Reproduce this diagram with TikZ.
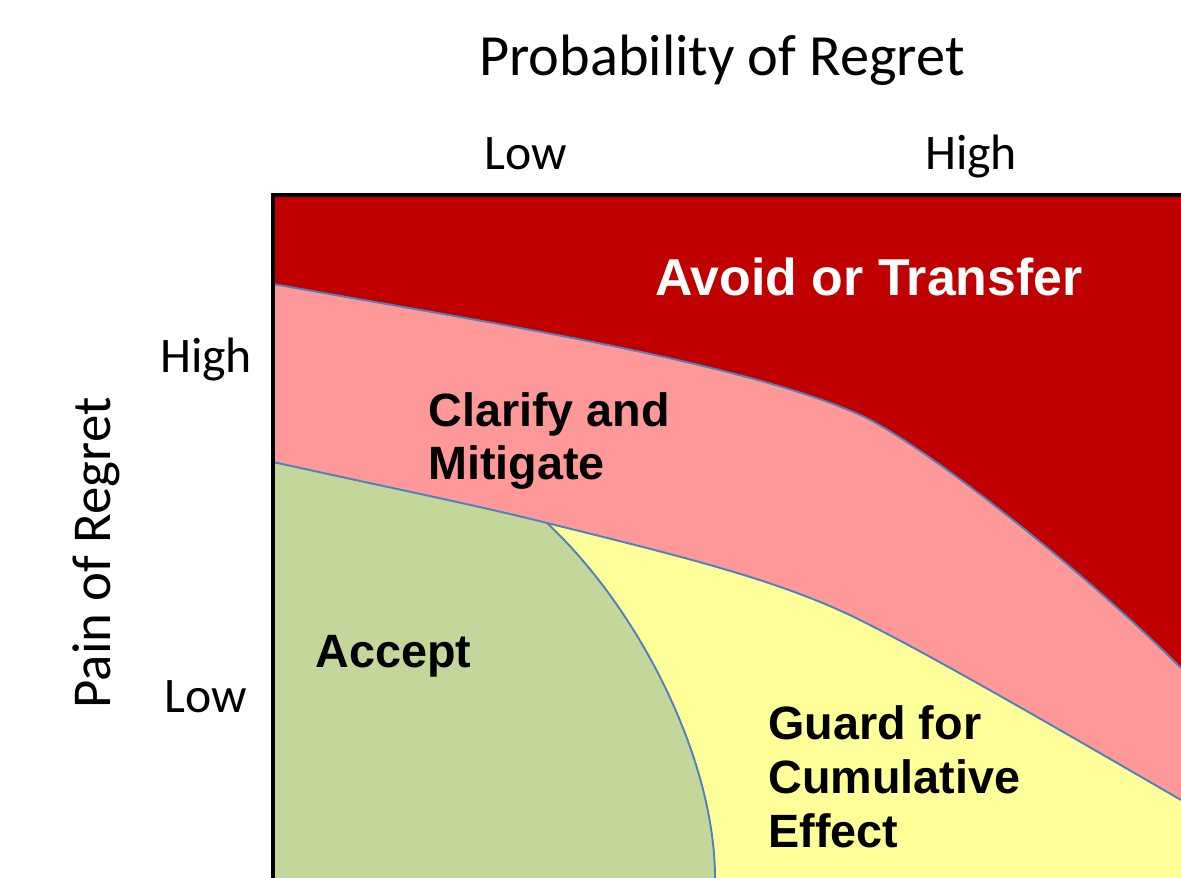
\documentclass[tikz,border=0pt]{standalone}
\usepackage{fontspec}
\setmainfont{Carlito}
\newfontfamily\zonefont{Liberation Sans}
\definecolor{avoidred}{HTML}{C00000}
\definecolor{clarpink}{HTML}{FF9999}
\definecolor{acceptgr}{HTML}{C4D79B}
\definecolor{guardyl}{HTML}{FFFF99}
\definecolor{bnd}{HTML}{4F81BD}
\tikzset{
    edge/.style={bnd,line width=1.1pt},
    frame/.style={black,line width=2.4pt},
    axislbl/.style={font=\fontsize{28.3}{34}\selectfont,inner sep=0pt,anchor=base},
    zonelbl/.style={font=\zonefont\bfseries\fontsize{26.6}{30.6}\selectfont,inner sep=0pt,align=left,anchor=base west}
}
\begin{document}
\begin{tikzpicture}[x=0.02cm,y=-0.02cm]
    \useasboundingbox (0,0) rectangle (1181,878);
    \coordinate (bl) at (273,878);
    \coordinate (tl) at (273,195);
    \coordinate (tr) at (1181,195);
    \coordinate (br) at (1181,878);
    \coordinate (u0) at (273,284);
    \coordinate (u1) at (860,415);
    \coordinate (u2) at (1181,668);
    \coordinate (l0) at (273,462);
    \coordinate (l1) at (547,523);
    \coordinate (l2) at (860,620);
    \coordinate (l3) at (1181,800);
    \coordinate (g1) at (715,878);
    % zones
    \fill [avoidred] (tl) rectangle (br);
    \fill [clarpink] (u0) .. controls (473,320) and (740,361) .. (u1)
        .. controls (920,442) and (1081,568) .. (u2) -- (br) -- (bl) -- cycle;
    \fill [guardyl] (l0) .. controls (400,490) and (480,506) .. (l1)
        .. controls (680,556) and (780,580) .. (l2)
        .. controls (920,650) and (1000,695) .. (l3) -- (br) -- (bl) -- cycle;
    \fill [acceptgr] (l0) .. controls (400,490) and (480,506) .. (l1)
        .. controls (640,610) and (715,760) .. (g1) -- (bl) -- cycle;
    % borders between zones
    \draw [edge] (u0) .. controls (473,320) and (740,361) .. (u1)
        .. controls (920,442) and (1081,568) .. (u2);
    \draw [edge] (l0) .. controls (400,490) and (480,506) .. (l1)
        .. controls (680,556) and (780,580) .. (l2)
        .. controls (920,650) and (1000,695) .. (l3);
    \draw [edge] (l1) .. controls (640,610) and (715,760) .. (g1);
    \draw [frame] (bl) -- (tl) -- (tr);
    % axes
    \node [axislbl,font=\fontsize{33.2}{40}\selectfont] (title) at (722,76) {Probability of Regret};
    \node [axislbl] (plow) at (526,170) {Low};
    \node [axislbl] (phigh) at (971,170) {High};
    \node [axislbl] (ghigh) at (206,373) {High};
    \node [axislbl] (glow) at (206,712) {Low};
    \node [axislbl,font=\fontsize{31.2}{37}\selectfont,rotate=90] (pain) at (110,553) {Pain of Regret};
    % zone labels
    \node [zonelbl,text=white,font=\zonefont\bfseries\fontsize{29.5}{34}\selectfont] (avoid) at (655,296) {Avoid or Transfer};
    \node [zonelbl] (clarify) at (428,480) {Clarify and\\Mitigate};
    \node [zonelbl] (accept) at (315,667) {Accept};
    \node [zonelbl] (guard) at (768,847) {Guard for\\Cumulative\\Effect};
\end{tikzpicture}
\end{document}
